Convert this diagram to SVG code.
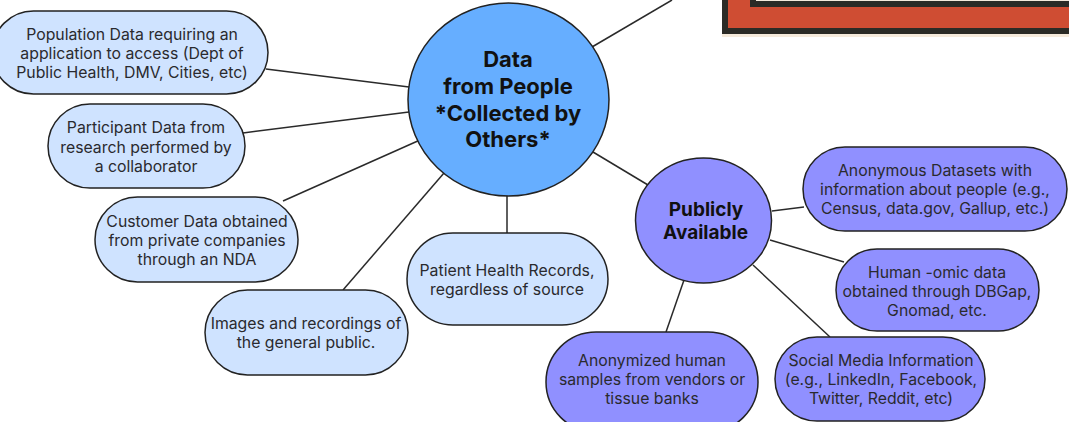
<svg xmlns="http://www.w3.org/2000/svg" width="1069" height="422" viewBox="0 0 1069 422">
<style>
text{font-family:Inter,"Liberation Sans",sans-serif;fill:#2a2a2e;text-anchor:middle}
.t{font-size:15.8px}
.b{font-size:22px;font-weight:700;fill:#111}
.p{font-size:19px;font-weight:700;fill:#111}
.n{stroke:#222;stroke-width:1.5}
.l{fill:#cfe3ff}
.v{fill:#9090ff}
#connectors line{stroke:#2a2a2a;stroke-width:1.5}
</style>
<rect width="1069" height="422" fill="#fff"/>
<g id="frame">
<rect x="722" y="-10" width="360" height="47" fill="#f5eadb"/>
<rect x="725" y="-10" width="350" height="41" fill="#cf4d33" stroke="#2b2b26" stroke-width="6"/>
<rect x="753" y="-10" width="330" height="14" fill="#f5eadb" stroke="#2b2b26" stroke-width="6"/>
</g>
<g id="connectors">
<line x1="592" y1="47" x2="672" y2="0"/>
<line x1="266" y1="69" x2="409" y2="87"/>
<line x1="243" y1="133" x2="409" y2="112"/>
<line x1="283" y1="201" x2="420" y2="140"/>
<line x1="343" y1="290" x2="444" y2="173"/>
<line x1="507" y1="195" x2="507" y2="233"/>
<line x1="593" y1="152" x2="648" y2="185"/>
<line x1="772" y1="211" x2="804" y2="207"/>
<line x1="770" y1="240" x2="844" y2="262"/>
<line x1="753" y1="265" x2="830" y2="337"/>
<line x1="684" y1="280" x2="666" y2="332"/>
</g>
<g id="hub"><ellipse class="n" cx="508.500" cy="99.500" rx="100.500" ry="96.500" fill="#66aeff"/>
<text class="b" x="508" y="67">Data</text><text class="b" x="508" y="94">from People</text><text class="b" x="508" y="121">*Collected by</text><text class="b" x="508" y="147">Others*</text></g>
<g id="public"><ellipse class="n" cx="703.500" cy="220.500" rx="68" ry="62.500" fill="#9090ff"/>
<text class="p" x="706" y="216">Publicly</text><text class="p" x="705.500" y="238.500">Available</text></g>
<g id="population"><rect class="n l" x="-8" y="11" width="276" height="83" rx="41.500"/>
<text class="t" x="132" y="39.500">Population Data requiring an</text><text class="t" x="132" y="58.500">application to access (Dept of</text><text class="t" x="132" y="77.500">Public Health, DMV, Cities, etc)</text></g>
<g id="participant"><rect class="n l" x="48" y="104" width="197" height="84" rx="42"/>
<text class="t" x="146" y="133">Participant Data from</text><text class="t" x="146" y="152.500">research performed by</text><text class="t" x="146" y="171.500">a collaborator</text></g>
<g id="customer"><rect class="n l" x="95" y="197" width="203" height="85" rx="42.500"/>
<text class="t" x="197" y="226.500">Customer Data obtained</text><text class="t" x="197" y="245.500">from private companies</text><text class="t" x="197" y="264.500">through an NDA</text></g>
<g id="images"><rect class="n l" x="205" y="290" width="203" height="85" rx="42.500"/>
<text class="t" x="306" y="328.500">Images and recordings of</text><text class="t" x="306" y="348">the general public.</text></g>
<g id="patient"><rect class="n l" x="407" y="233" width="201" height="92" rx="46"/>
<text class="t" x="507" y="275.500">Patient Health Records,</text><text class="t" x="507" y="294.500">regardless of source</text></g>
<g id="anonymous"><rect class="n v" x="803" y="147" width="264" height="84" rx="42"/>
<text class="t" x="935" y="175.500">Anonymous Datasets with</text><text class="t" x="935" y="194.500">information about people (e.g.,</text><text class="t" x="935" y="214">Census, data.gov, Gallup, etc.)</text></g>
<g id="omic"><rect class="n v" x="836" y="249" width="203" height="82" rx="41"/>
<text class="t" x="937" y="277.500">Human -omic data</text><text class="t" x="937" y="296.500">obtained through DBGap,</text><text class="t" x="937" y="315.500">Gnomad, etc.</text></g>
<g id="social"><rect class="n v" x="775" y="337" width="210" height="84" rx="42"/>
<text class="t" x="881" y="365.500">Social Media Information</text><text class="t" x="881" y="384.500">(e.g., LinkedIn, Facebook,</text><text class="t" x="881" y="403.500">Twitter, Reddit, etc)</text></g>
<g id="samples"><rect class="n v" x="546" y="332" width="212" height="100" rx="50"/>
<text class="t" x="652" y="365.500">Anonymized human</text><text class="t" x="652" y="384.500">samples from vendors or</text><text class="t" x="652" y="403.500">tissue banks</text></g>
</svg>
